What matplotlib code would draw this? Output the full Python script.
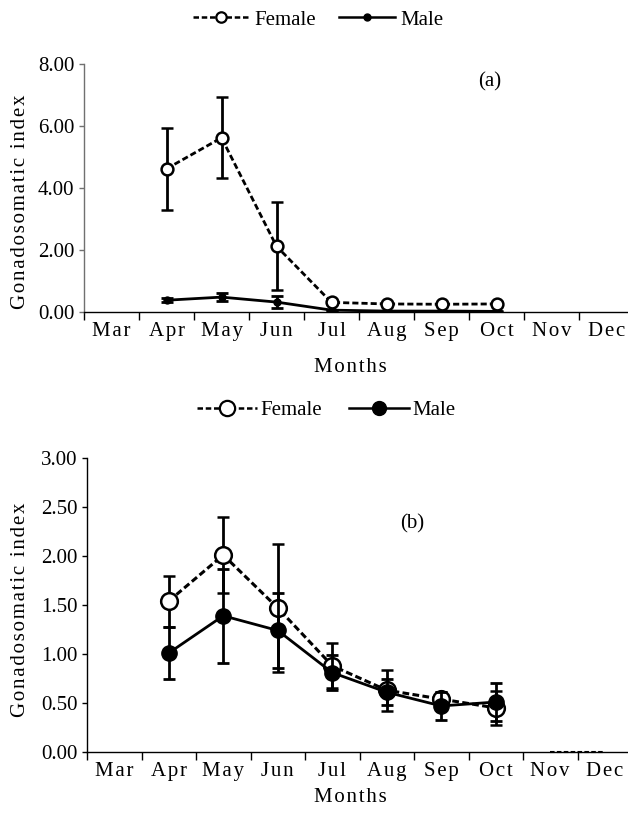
import matplotlib
matplotlib.use("Agg")
import matplotlib.pyplot as plt
from matplotlib.lines import Line2D
import numpy as np

plt.rcParams['font.family'] = ['Liberation Serif', 'DejaVu Serif']

months = ['Mar', 'Apr', 'May', 'Jun', 'Jul', 'Aug', 'Sep', 'Oct', 'Nov', 'Dec']
sampled_months = ['Apr', 'May', 'Jun', 'Jul', 'Aug', 'Sep', 'Oct']

# Panel (a)
a_female = [4.62, 5.62, 2.12, 0.31, 0.26, 0.25, 0.26]
a_female_err = [1.33, 1.30, 1.42, 0.04, 0.03, 0.03, 0.05]
a_male = [0.38, 0.48, 0.32, 0.06, 0.03, 0.03, 0.02]
a_male_err = [0.06, 0.13, 0.18, 0.02, 0.01, 0.01, 0.02]

# Panel (b)
b_female = [1.54, 2.01, 1.47, 0.88, 0.63, 0.54, 0.45]
b_female_err = [0.26, 0.39, 0.65, 0.23, 0.21, 0.07, 0.17]
b_male = [1.01, 1.39, 1.24, 0.81, 0.61, 0.47, 0.51]
b_male_err = [0.27, 0.48, 0.38, 0.18, 0.13, 0.14, 0.19]
b_zero_months = ['Nov', 'Dec']
b_zero_values = [0.0, 0.0]

a_yticks = [0, 2, 4, 6, 8]
b_yticks = [0, 0.5, 1.0, 1.5, 2.0, 2.5, 3.0]

W, H = 628, 813
fig = plt.figure(figsize=(W / 100, H / 100), dpi=100)
HS = '\u200a'
FS = 15
DASH = (0, (2.2, 1.1))


def spaced(s):
    return HS.join(list(s))


def pos(sel):
    return [months.index(m) + 0.5 for m in sel]


def style_axes(ax, color):
    ax.set_xlim(0, len(months))
    ax.spines['top'].set_visible(False)
    ax.spines['right'].set_visible(False)
    ax.spines['left'].set_color(color)
    ax.spines['bottom'].set_color('black')
    ax.spines['left'].set_linewidth(1.0)
    ax.spines['bottom'].set_linewidth(1.0)
    ax.set_xticks(np.arange(len(months) + 1))
    ax.set_xticklabels([])
    ax.set_xticks(np.arange(len(months)) + 0.5, minor=True)
    ax.set_xticklabels([spaced(m) for m in months], minor=True, fontsize=FS)
    ax.tick_params(axis='x', which='major', direction='out', length=6, width=1, color='black')
    ax.tick_params(axis='x', which='minor', length=0, pad=7)
    ax.tick_params(axis='y', direction='out', length=3.8, width=1, color=color,
                   labelsize=FS, pad=3)


def px(xp, yp):
    return xp / W, 1 - yp / H


# ---------- Panel (a) ----------
ax1 = fig.add_axes([84 / W, 1 - 312 / H, 550 / W, (312 - 64) / H])
x = pos(sampled_months)
ax1.errorbar(x, a_male, yerr=a_male_err, color='black', lw=2, marker='o', ms=5,
             mfc='black', mec='black', capsize=4, elinewidth=2, capthick=2, zorder=3)
ax1.errorbar(x, a_female, yerr=a_female_err, color='black', lw=2, ls=DASH,
             marker='o', ms=8.5, mfc='white', mec='black', mew=1.8,
             capsize=4, elinewidth=2, capthick=2, zorder=4)
ax1.set_ylim(0, 8)
ax1.set_yticks(a_yticks)
ax1.set_yticklabels([f'{v:.2f}' for v in a_yticks])
style_axes(ax1, '#707070')
fig.text(*px(490, 82), '(a)', fontsize=FS, ha='center', va='center')
fig.text(*px(350, 372), spaced('Months'), fontsize=FS, ha='center', va='baseline')
fig.text(*px(21, 202), spaced('Gonadosomatic index'), fontsize=FS, ha='center',
         va='center', rotation=90)

h_f = Line2D([], [], color='black', lw=1.8, ls=DASH, marker='o', ms=7.5,
             mfc='white', mec='black', mew=1.6)
h_m = Line2D([], [], color='black', lw=1.8, marker='o', ms=5, mfc='black', mec='black')
fig.legend([h_f, h_m], ['Female', 'Male'], loc='center', bbox_to_anchor=px(318, 20),
           ncol=2, frameon=False, fontsize=FS, handlelength=2.7, handletextpad=0.25,
           columnspacing=1.1)

# ---------- Panel (b) ----------
ax2 = fig.add_axes([87 / W, 1 - 752 / H, 545 / W, (752 - 458) / H])
ax2.errorbar(x, b_female, yerr=b_female_err, color='black', lw=2.2, ls=DASH,
             marker='o', ms=12, mfc='white', mec='black', mew=1.8,
             capsize=4, elinewidth=2, capthick=2, zorder=3)
ax2.errorbar(x, b_male, yerr=b_male_err, color='black', lw=2, marker='o', ms=11,
             mfc='black', mec='black', capsize=4, elinewidth=2, capthick=2, zorder=4)
ax2.plot(pos(b_zero_months), b_zero_values, color='black', lw=1.5, ls=DASH,
         zorder=2, clip_on=False)
ax2.set_ylim(0, 3)
ax2.set_yticks(b_yticks)
ax2.set_yticklabels([f'{v:.2f}' for v in b_yticks])
style_axes(ax2, 'black')
fig.text(*px(412, 524), '(b)', fontsize=FS, ha='center', va='center')
fig.text(*px(350, 802), spaced('Months'), fontsize=FS, ha='center', va='baseline')
fig.text(*px(21, 610), spaced('Gonadosomatic index'), fontsize=FS, ha='center',
         va='center', rotation=90)

h_f2 = Line2D([], [], color='black', lw=1.8, ls=DASH, marker='o', ms=11,
              mfc='white', mec='black', mew=1.6)
h_m2 = Line2D([], [], color='black', lw=1.8, marker='o', ms=10, mfc='black', mec='black')
fig.legend([h_f2, h_m2], ['Female', 'Male'], loc='center', bbox_to_anchor=px(326, 410),
           ncol=2, frameon=False, fontsize=FS, handlelength=2.9, handletextpad=0.15,
           columnspacing=1.3)

fig.savefig('out.png', dpi=100)
